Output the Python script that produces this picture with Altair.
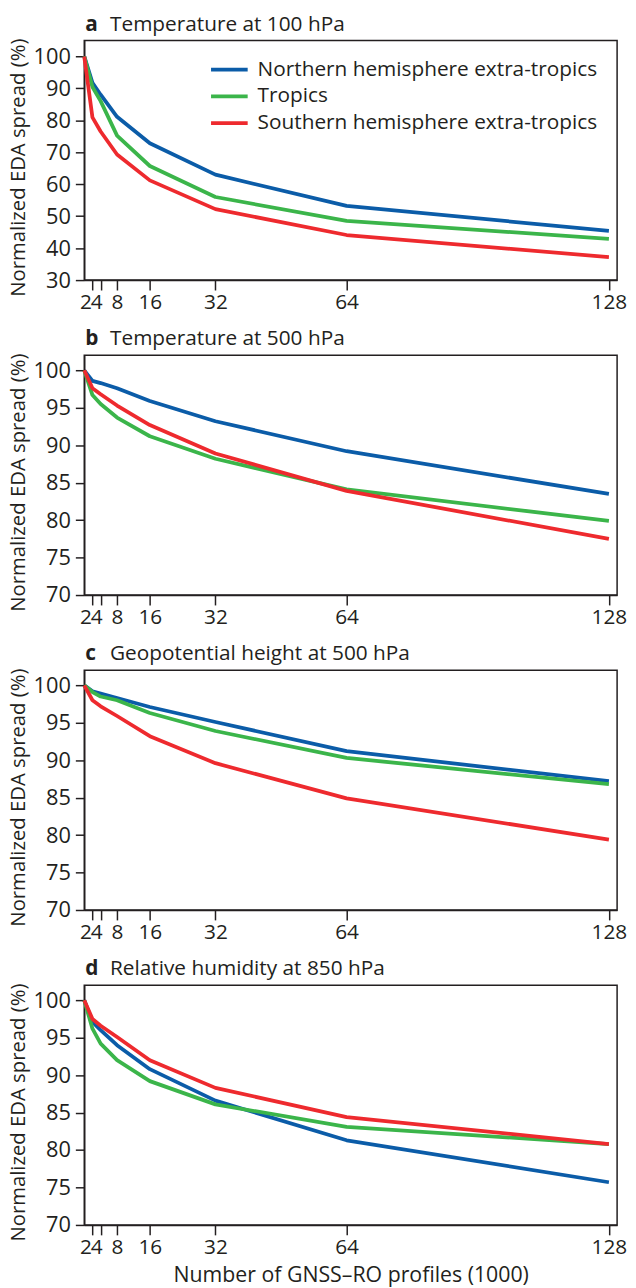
import altair as alt
import pandas as pd

x_values = [0, 2, 4, 8, 16, 32, 64, 128]
regions = ["Northern hemisphere extra-tropics", "Tropics", "Southern hemisphere extra-tropics"]
colors = ["#0b5ca8", "#3bb54a", "#ee2a2e"]

letters = ["a", "b", "c", "d"]
titles = ["Temperature at 100 hPa", "Temperature at 500 hPa",
          "Geopotential height at 500 hPa", "Relative humidity at 850 hPa"]

# Panel a: temperature at 100 hPa
a_nh = [100, 91.7, 88.0, 81.1, 72.8, 63.0, 53.2, 45.4]
a_tr = [100, 90.4, 86.0, 75.2, 65.7, 56.0, 48.5, 42.9]
a_sh = [100, 80.9, 76.5, 69.3, 61.2, 52.2, 44.1, 37.2]
# Panel b: temperature at 500 hPa
b_nh = [100, 98.6, 98.3, 97.6, 95.9, 93.2, 89.2, 83.5]
b_tr = [100, 96.7, 95.5, 93.7, 91.2, 88.2, 84.1, 79.9]
b_sh = [100, 97.6, 96.8, 95.3, 92.7, 88.9, 83.9, 77.5]
# Panel c: geopotential height at 500 hPa
c_nh = [100, 99.2, 98.9, 98.3, 97.1, 95.1, 91.2, 87.2]
c_tr = [100, 99.1, 98.5, 98.0, 96.3, 93.9, 90.3, 86.8]
c_sh = [100, 98.0, 97.2, 95.9, 93.2, 89.6, 84.9, 79.4]
# Panel d: relative humidity at 850 hPa
d_nh = [100, 97.1, 96.0, 94.0, 90.8, 86.6, 81.3, 75.7]
d_tr = [100, 96.2, 94.2, 92.0, 89.2, 86.1, 83.1, 80.8]
d_sh = [100, 97.5, 96.6, 95.1, 92.0, 88.3, 84.4, 80.8]

panel_series = [[a_nh, a_tr, a_sh], [b_nh, b_tr, b_sh], [c_nh, c_tr, c_sh], [d_nh, d_tr, d_sh]]
y_domains = [[30, 105], [70, 102], [70, 102], [70, 102]]
y_ticks = [[30, 40, 50, 60, 70, 80, 90, 100]] + [[70, 75, 80, 85, 90, 95, 100]] * 3
x_ticks = [2, 4, 8, 16, 32, 64, 128]

FONT = "Open Sans"
INK = "#231f20"
W, H = 538, 242


def make_panel(i):
    rows = []
    for reg, vals in zip(regions, panel_series[i]):
        for xv, yv in zip(x_values, vals):
            rows.append({"profiles": xv, "spread": yv, "region": reg})
    df = pd.DataFrame(rows)

    if i == 0:
        legend = alt.Legend(title=None, orient="none", legendX=135, legendY=18,
                            symbolType="M-2,0H2", symbolStrokeWidth=4, symbolSize=342,
                            labelFontSize=21, labelFont=FONT, labelColor=INK, labelLimit=0,
                            labelOffset=17, rowPadding=5, padding=0)
    else:
        legend = None

    xaxis = alt.Axis(values=x_ticks, labelOverlap=False, labelFlush=False, grid=False,
                     tickSize=10, labelPadding=2, labelFontSize=21,
                     labelOffset={"expr": "datum.value == 2 ? -7 : (datum.value == 4 ? -4.5 : 0)"},
                     title="Number of GNSS\u2013RO profiles (1000)" if i == 3 else None,
                     titleX=W / 2, titleY=57, titleAlign="center", titleBaseline="alphabetic",
                     titleFontSize=21.5, titleFontWeight="normal")
    yaxis = alt.Axis(values=y_ticks[i], grid=False, tickSize=9, labelPadding=5,
                     labelFontSize=22, title="Normalized EDA spread (%)",
                     titleFontSize=20.5, titleFontWeight="normal", titleAngle=270,
                     titleX=-60, titleY=H / 2 + 7, titleAlign="center", titleBaseline="alphabetic")

    lines = alt.Chart(df).mark_line(strokeWidth=3.8, strokeJoin="round").encode(
        x=alt.X("profiles:Q", scale=alt.Scale(domain=[0, 130], nice=False, zero=False), axis=xaxis),
        y=alt.Y("spread:Q", scale=alt.Scale(domain=y_domains[i], nice=False, zero=False), axis=yaxis),
        color=alt.Color("region:N", scale=alt.Scale(domain=regions, range=colors), legend=legend),
        detail="region:N",
    )
    letter = alt.Chart(pd.DataFrame({"t": [letters[i]]})).mark_text(
        font=FONT, fontSize=21, fontWeight="bold", align="left", baseline="alphabetic", color=INK
    ).encode(x=alt.value(1), y=alt.value(-10), text="t:N")
    heading = alt.Chart(pd.DataFrame({"t": [titles[i]]})).mark_text(
        font=FONT, fontSize=21, fontWeight="normal", align="left", baseline="alphabetic", color=INK
    ).encode(x=alt.value(26), y=alt.value(-10), text="t:N")

    return alt.layer(lines, letter, heading).properties(width=W, height=H)


chart = alt.vconcat(*[make_panel(i) for i in range(4)], spacing=14).resolve_legend(
    color="independent"
).properties(
    padding={"left": 0, "top": -1.5, "right": 0, "bottom": 0}
).configure_view(
    stroke=INK, strokeWidth=1.5
).configure_axis(
    labelFont=FONT, titleFont=FONT, labelColor=INK, titleColor=INK,
    domainColor=INK, tickColor=INK, domainWidth=1.5, tickWidth=1.5
)

chart.save("out.html", embed_options={"renderer": "svg", "actions": False})
